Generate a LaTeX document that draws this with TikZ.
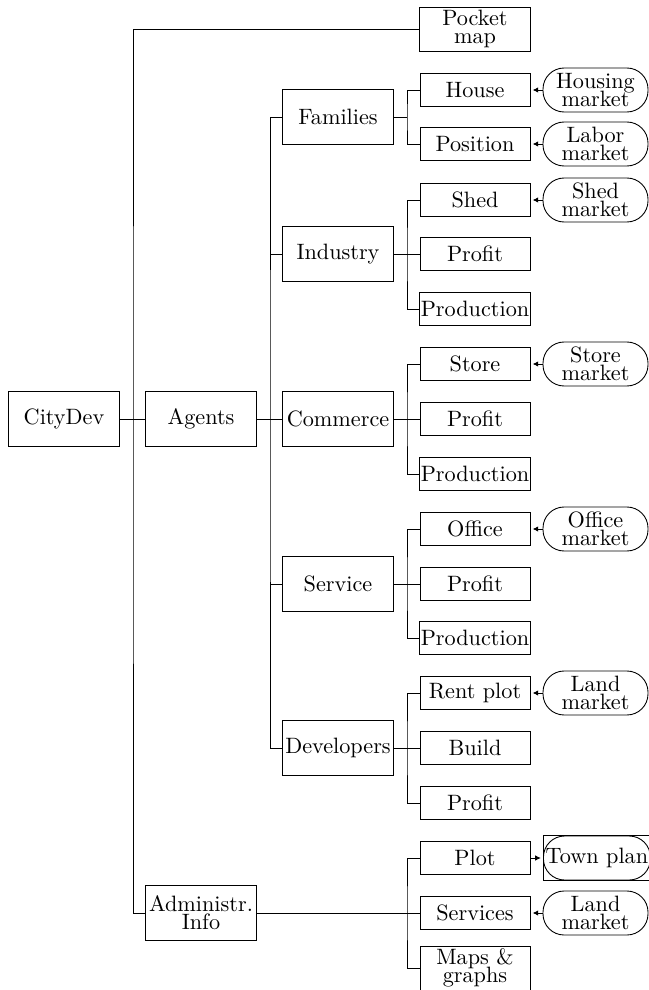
\documentclass[tikz,border=0pt]{standalone}
\usetikzlibrary{arrows.meta}

\tikzset{
  block/.style={draw, thin, minimum width=50pt, minimum height=24.75pt, inner sep=0.5pt, align=center},
  leaf/.style={draw, thin, minimum width=49.5pt, minimum height=14.85pt, inner sep=0.5pt, align=center},
  market/.style={draw, thin, rounded corners=9.5pt, minimum width=47.25pt, minimum height=19.8pt, inner sep=1pt, align=center},
  feed/.style={-{Latex[length=2.5pt,width=2.5pt]}, shorten >=1pt},
}

\begin{document}
\begin{tikzpicture}[x=0.45pt, y=-0.45pt]
    \useasboundingbox (0,0) rectangle (648,990);

    % top levels
    \node[block] (citydev) at (64,419) {CityDev};
    \node[block] (agents) at (201,419) {Agents};
    \node[block, minimum height=19.8pt] (pocket) at (475,29) {Pocket\\[-4pt]map};
    \node[block] (admin) at (201,913) {Administr.\\[-4pt]Info};

    \node[block] (families) at (338,117) {Families};
    \node[block] (industry) at (338,254) {Industry};
    \node[block] (commerce) at (338,419) {Commerce};
    \node[block] (service) at (338,584) {Service};
    \node[block] (developers) at (338,748) {Developers};

    % leaves
    \node[leaf] (house) at (475,90) {House};
    \node[leaf] (position) at (475,144) {Position};

    \node[leaf] (shed) at (475,200) {Shed};
    \node[leaf] (profitI) at (475,254) {Profit};
    \node[leaf] (productionI) at (475,309) {Production};

    \node[leaf] (store) at (475,364) {Store};
    \node[leaf] (profitC) at (475,419) {Profit};
    \node[leaf] (productionC) at (475,474) {Production};

    \node[leaf] (office) at (475,529) {Office};
    \node[leaf] (profitS) at (475,584) {Profit};
    \node[leaf] (productionS) at (475,638) {Production};

    \node[leaf] (rentplot) at (475,693) {Rent plot};
    \node[leaf] (build) at (475,748) {Build};
    \node[leaf] (profitD) at (475,803) {Profit};

    \node[leaf] (plot) at (475,858) {Plot};
    \node[leaf] (services) at (475,913) {Services};
    \node[leaf, minimum height=19.8pt] (maps) at (475,968) {Maps \&\\[-4pt]graphs};

    % markets
    \node[market] (housingmkt) at (595.5,90) {Housing\\[-4pt]market};
    \node[market] (labormkt) at (595.5,144) {Labor\\[-4pt]market};
    \node[market] (shedmkt) at (595.5,200) {Shed\\[-4pt]market};
    \node[market] (storemkt) at (595.5,364) {Store\\[-4pt]market};
    \node[market] (officemkt) at (595.5,529) {Office\\[-4pt]market};
    \node[market] (landmktD) at (595.5,693) {Land\\[-4pt]market};
    \node[market, anchor=west] (townplan) at (543,858) {Town plan};
    \draw (townplan.north west) rectangle (townplan.south east);
    \node[market] (landmktA) at (595.5,913) {Land\\[-4pt]market};

    % bars
    \coordinate (rootbar) at (133,419);
    \coordinate (agentsbar) at (270,419);
    \coordinate (familiesbar) at (407,117);
    \coordinate (industrybar) at (407,254);
    \coordinate (commercebar) at (407,419);
    \coordinate (servicebar) at (407,584);
    \coordinate (developersbar) at (407,748);
    \coordinate (adminbar) at (407,913);

    \draw (pocket.west) -| (rootbar) |- (admin.west);
    \draw (citydev) -- (agents);

    \draw (families.west) -| (agentsbar) |- (developers.west);
    \draw (agents) -- (commerce);
    \draw (agentsbar |- industry.west) -- (industry.west);
    \draw (agentsbar |- service.west) -- (service.west);

    \draw (house.west) -| (familiesbar) |- (position.west);
    \draw (families) -- (familiesbar);

    \draw (shed.west) -| (industrybar) |- (productionI.west);
    \draw (industry) -- (profitI);

    \draw (store.west) -| (commercebar) |- (productionC.west);
    \draw (commerce) -- (profitC);

    \draw (office.west) -| (servicebar) |- (productionS.west);
    \draw (service) -- (profitS);

    \draw (rentplot.west) -| (developersbar) |- (profitD.west);
    \draw (developers) -- (build);

    \draw (plot.west) -| (adminbar) |- (maps.west);
    \draw (admin) -- (services);

    % market links
    \draw[feed] (housingmkt) -- (house);
    \draw[feed] (labormkt) -- (position);
    \draw[feed] (shedmkt) -- (shed);
    \draw[feed] (storemkt) -- (store);
    \draw[feed] (officemkt) -- (office);
    \draw[feed] (landmktD) -- (rentplot);
    \draw[feed] (plot) -- (townplan);
    \draw[feed] (landmktA) -- (services);
\end{tikzpicture}
\end{document}
